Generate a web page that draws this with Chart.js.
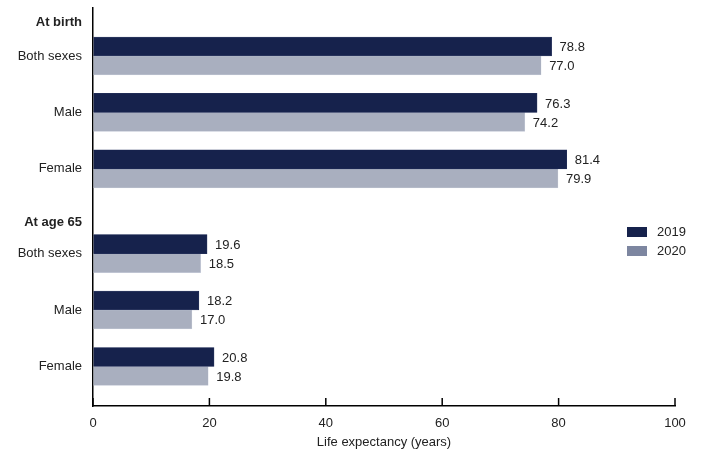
<!DOCTYPE html>
<html>
<head>
<meta charset="utf-8">
<script src="https://cdn.jsdelivr.net/npm/chart.js@4"></script>
<style>
html,body{margin:0;padding:0;background:#fff;}
#wrap{width:702px;height:459px;position:relative;}
</style>
</head>
<body>
<div id="wrap"><canvas id="c"></canvas></div>
<script>
// ---- data ----
const groups = ["At birth", "At age 65"];
const subcategories = ["Both sexes", "Male", "Female"];
const seriesLabels = ["2019", "2020"];
const values2019 = [78.8, 76.3, 81.4, 19.6, 18.2, 20.8];
const values2020 = [77.0, 74.2, 79.9, 18.5, 17.0, 19.8];
const xTicks = [0, 20, 40, 60, 80, 100];
const xTitle = "Life expectancy (years)";

// ---- layout (positions on the band axis, computed) ----
const TOP_OFFSET = 0.85, GROUP_GAP = 1.5, BAND_MAX = 7.05;
const HEADER_OFFSETS = [0.6, 0.55];
const rows = [];
const ticksInfo = [];
groups.forEach((g, gi) => {
  const start = TOP_OFFSET + gi * (subcategories.length - 1 + GROUP_GAP);
  ticksInfo.push({ value: start - HEADER_OFFSETS[gi], label: g, header: true });
  subcategories.forEach((s, si) => {
    rows.push(start + si);
    ticksInfo.push({ value: start + si, label: s, header: false });
  });
});
const labelFor = v => { const t = ticksInfo.find(t => Math.abs(t.value - v) < 1e-6); return t ? t.label : ''; };
const isHeader = v => { const t = ticksInfo.find(t => Math.abs(t.value - v) < 1e-6); return t ? t.header : false; };

const C2019 = '#16224c', C2020 = '#a9afbf', L2020 = '#7d86a0';
const FONT = "'Liberation Sans', Arial, Helvetica, sans-serif";
const TEXT = '#222222';

const valueLabels = {
  id: 'valueLabels',
  afterDatasetsDraw(chart) {
    const ctx = chart.ctx;
    ctx.save();
    ctx.font = '13px ' + FONT;
    ctx.fillStyle = TEXT;
    ctx.textBaseline = 'middle';
    ctx.textAlign = 'left';
    chart.data.datasets.forEach((ds, di) => {
      chart.getDatasetMeta(di).data.forEach((el, i) => {
        ctx.fillText(ds.data[i].x.toFixed(1), el.x + 8, el.y + 1);
      });
    });
    ctx.restore();
  }
};

const axisDeco = {
  id: 'axisDeco',
  afterDraw(chart) {
    const ctx = chart.ctx, xs = chart.scales.x, ca = chart.chartArea;
    ctx.save();
    ctx.strokeStyle = '#000';
    ctx.lineWidth = 1.5;
    xTicks.forEach(v => {
      const px = xs.getPixelForValue(v);
      ctx.beginPath();
      ctx.moveTo(px, ca.bottom);
      ctx.lineTo(px, ca.bottom - 8);
      ctx.stroke();
    });
    // legend
    const lx = 627, ly = 227;
    const cols = [C2019, L2020];
    ctx.font = '13px ' + FONT;
    ctx.textBaseline = 'middle';
    ctx.fillStyle = TEXT;
    chart.data.datasets.forEach((ds, i) => {
      ctx.fillStyle = cols[i];
      ctx.fillRect(lx, ly + i * 19, 20, 10);
      ctx.fillStyle = TEXT;
      ctx.fillText(ds.label, lx + 30, ly + i * 19 + 5.5);
    });
    ctx.restore();
  }
};

new Chart(document.getElementById('c'), {
  type: 'bar',
  data: {
    datasets: [
      { label: seriesLabels[0], data: values2019.map((v, i) => ({ x: v, y: rows[i] })), backgroundColor: C2019, borderColor: '#2a3660', borderWidth: 0.5, barThickness: 19 },
      { label: seriesLabels[1], data: values2020.map((v, i) => ({ x: v, y: rows[i] })), backgroundColor: C2020, borderColor: '#d5d9e4', borderWidth: 0.5, barThickness: 19 }
    ]
  },
  options: {
    indexAxis: 'y',
    responsive: true,
    maintainAspectRatio: false,
    animation: false,
    layout: { padding: { top: 8, right: 27, left: 0, bottom: 0 } },
    plugins: { legend: { display: false }, tooltip: { enabled: false } },
    scales: {
      x: {
        type: 'linear', min: 0, max: 100, offset: false,
        afterBuildTicks: s => { s.ticks = xTicks.map(v => ({ value: v })); },
        afterFit: s => { s.height = 53; },
        grid: { display: true, drawOnChartArea: false, drawTicks: false, offset: false },
        border: { display: true, color: '#000', width: 1.5 },
        ticks: { padding: 10, color: TEXT, font: { family: FONT, size: 13 }, maxRotation: 0 },
        title: { display: true, text: xTitle, color: TEXT, font: { family: FONT, size: 13 }, padding: { top: 0, bottom: 9 } }
      },
      y: {
        type: 'linear', min: 0, max: BAND_MAX, reverse: true, offset: false,
        afterBuildTicks: s => { s.ticks = ticksInfo.map(t => ({ value: t.value })); },
        afterFit: s => { s.width = 93; s.paddingTop = 0; s.paddingBottom = 0; },
        grid: { display: false, drawTicks: false, offset: false },
        border: { display: true, color: '#000', width: 1.5 },
        ticks: {
          padding: 11,
          color: TEXT,
          autoSkip: false,
          callback: v => labelFor(v),
          font: ctx => ({ family: FONT, size: 13, weight: (ctx.tick && isHeader(ctx.tick.value)) ? 'bold' : 'normal' })
        }
      }
    }
  },
  plugins: [valueLabels, axisDeco]
});
</script>
</body>
</html>
